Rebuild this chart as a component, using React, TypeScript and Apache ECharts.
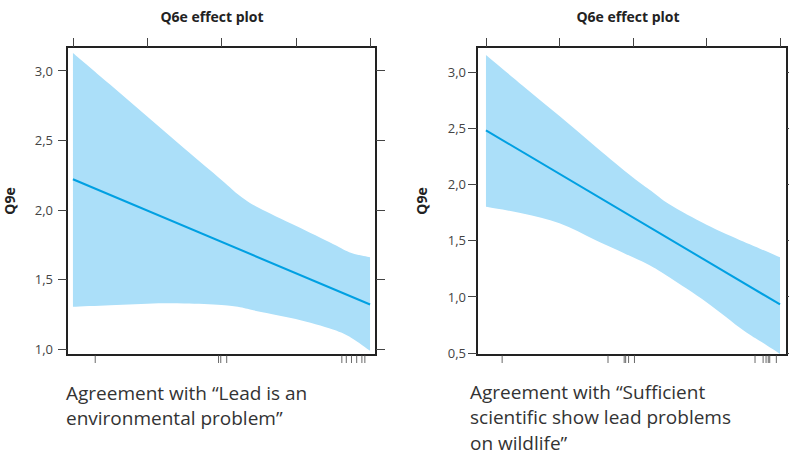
import React, { useEffect, useRef } from "react";
import * as echarts from "echarts";

// ---- data ----
const X_TICKS = [1, 2, 3, 4, 5];
const BAND_X = [1, 1.5, 2, 2.5, 3, 3.25, 3.5, 4, 4.5, 4.75, 5];

const LEAD_UPPER = [3.127, 2.9, 2.67, 2.44, 2.215, 2.1, 2.015, 1.885, 1.755, 1.69, 1.66];
const LEAD_LOWER = [1.304, 1.315, 1.326, 1.327, 1.316, 1.3, 1.27, 1.215, 1.14, 1.08, 0.988];
const LEAD_FIT_X = [1, 5];
const LEAD_FIT = [2.22, 1.32];
const LEAD_RUG = [1.3, 2.96, 2.99, 3.07, 4.62, 4.68, 4.75, 4.82, 4.89, 4.93];
const LEAD_Y_TICKS = [1, 1.5, 2, 2.5, 3];

const WILD_UPPER = [3.15, 2.878, 2.607, 2.33, 2.06, 1.94, 1.82, 1.64, 1.49, 1.42, 1.35];
const WILD_LOWER = [1.8, 1.74, 1.652, 1.5, 1.35, 1.27, 1.17, 0.95, 0.7, 0.595, 0.49];
const WILD_FIT_X = [1, 5];
const WILD_FIT = [2.48, 0.93];
const WILD_RUG = [1.22, 2.66, 2.88, 2.9, 2.94, 3.02, 4.66, 4.77, 4.81, 4.84, 4.86, 4.95];
const WILD_Y_TICKS = [0.5, 1, 1.5, 2, 2.5, 3];

const TITLE = "Q6e effect plot";
const Y_NAME = "Q9e";
const LEAD_XLABEL = "Agreement with \u201cLead is an\nenvironmental problem\u201d";
const WILD_XLABEL = "Agreement with \u201cSufficient\nscientific show lead problems\non wildlife\u201d";

const BAND_COLOR = "#abdff9";
const LINE_COLOR = "#00a0e2";
const FONT = "Open Sans";

function fmt(v: number) {
  return v.toFixed(1).replace(".", ",");
}

// Smooth curve through pixel points (Catmull-Rom -> cubic Bezier), as path commands.
function curveCmds(pts: number[][]) {
  let d = "";
  for (let i = 0; i < pts.length - 1; i++) {
    const p0 = pts[Math.max(i - 1, 0)];
    const p1 = pts[i];
    const p2 = pts[i + 1];
    const p3 = pts[Math.min(i + 2, pts.length - 1)];
    const c1x = p1[0] + (p2[0] - p0[0]) / 6;
    const c1y = p1[1] + (p2[1] - p0[1]) / 6;
    const c2x = p2[0] - (p3[0] - p1[0]) / 6;
    const c2y = p2[1] - (p3[1] - p1[1]) / 6;
    d += ` C ${c1x} ${c1y} ${c2x} ${c2y} ${p2[0]} ${p2[1]}`;
  }
  return d;
}

function panelSeries(
  xi: number,
  yi: number,
  upper: number[],
  lower: number[],
  fitX: number[],
  fit: number[],
  rug: number[],
  yMin: number
) {
  return [
    {
      type: "custom",
      coordinateSystem: "cartesian2d",
      xAxisIndex: xi,
      yAxisIndex: yi,
      data: [[BAND_X[0], lower[0]]],
      encode: { x: 0, y: 1 },
      silent: true,
      z: 1,
      renderItem: (params: any, api: any) => {
        const top = BAND_X.map((x, i) => api.coord([x, upper[i]]));
        const bottom = BAND_X.map((x, i) => api.coord([x, lower[i]])).reverse();
        const d =
          `M ${top[0][0]} ${top[0][1]}` +
          curveCmds(top) +
          ` L ${bottom[0][0]} ${bottom[0][1]}` +
          curveCmds(bottom) +
          " Z";
        return {
          type: "path",
          shape: { pathData: d },
          style: { fill: BAND_COLOR, stroke: "none" },
        };
      },
    },
    {
      type: "line",
      xAxisIndex: xi,
      yAxisIndex: yi,
      data: fitX.map((x, i) => [x, fit[i]]),
      symbol: "none",
      lineStyle: { color: LINE_COLOR, width: 2 },
      silent: true,
      z: 3,
    },
    {
      type: "scatter",
      xAxisIndex: xi,
      yAxisIndex: yi,
      data: rug.map((x) => [x, yMin]),
      symbol: "rect",
      symbolSize: [1, 8],
      symbolOffset: [0, 4],
      itemStyle: { color: "#444" },
      clip: false,
      silent: true,
      z: 4,
    },
  ];
}

export default function App() {
  const ref = useRef<HTMLDivElement>(null);
  useEffect(() => {
    document.body.style.margin = "0";
    if (!ref.current) return;
    const chart = echarts.init(ref.current, undefined, { renderer: "svg" });

    const leftMin = 0.957, leftMax = 3.17;
    const rightMin = 0.48, rightMax = 3.222;

    const tickStyle = { show: true, inside: false, length: 9, lineStyle: { color: "#444", width: 1 } };
    const xAxis = (gi: number, min: number, max: number) => ({
      type: "value",
      gridIndex: gi,
      position: "top",
      min,
      max,
      axisLine: { show: false },
      axisTick: { ...tickStyle, customValues: X_TICKS },
      axisLabel: { show: false, customValues: X_TICKS },
      splitLine: { show: false },
    });
    const yAxisMain = (gi: number, min: number, max: number, ticks: number[], margin: number, gap: number) => ({
      type: "value",
      gridIndex: gi,
      position: "left",
      min,
      max,
      name: Y_NAME,
      nameLocation: "middle",
      nameGap: gap,
      nameRotate: 90,
      nameTextStyle: { fontFamily: FONT, fontWeight: "bold", fontSize: 14, color: "#222" },
      axisLine: { show: false },
      axisTick: { ...tickStyle, customValues: ticks },
      axisLabel: {
        customValues: ticks,
        formatter: (v: number) => fmt(v),
        margin,
        fontFamily: FONT,
        fontSize: 13,
        color: "#444",
      },
      splitLine: { show: false },
    });
    const yAxisSide = (gi: number, min: number, max: number, ticks: number[]) => ({
      type: "value",
      gridIndex: gi,
      position: "right",
      min,
      max,
      axisLine: { show: false },
      axisTick: { ...tickStyle, customValues: ticks },
      axisLabel: { show: false, customValues: ticks },
      splitLine: { show: false },
    });

    const option: any = {
      animation: false,
      backgroundColor: "#ffffff",
      grid: [
        { left: 67, top: 47, width: 309, height: 308, show: true, borderColor: "#222", borderWidth: 2, backgroundColor: "transparent" },
        { left: 477, top: 47, width: 310, height: 308, show: true, borderColor: "#222", borderWidth: 2, backgroundColor: "transparent" },
      ],
      xAxis: [xAxis(0, 0.92, 5.08), xAxis(1, 0.878, 5.095)],
      yAxis: [
        yAxisMain(0, leftMin, leftMax, LEAD_Y_TICKS, 14, 51),
        yAxisSide(0, leftMin, leftMax, LEAD_Y_TICKS),
        yAxisMain(1, rightMin, rightMax, WILD_Y_TICKS, 11, 49),
        yAxisSide(1, rightMin, rightMax, WILD_Y_TICKS),
      ],
      series: [
        ...panelSeries(0, 0, LEAD_UPPER, LEAD_LOWER, LEAD_FIT_X, LEAD_FIT, LEAD_RUG, leftMin),
        ...panelSeries(1, 2, WILD_UPPER, WILD_LOWER, WILD_FIT_X, WILD_FIT, WILD_RUG, rightMin),
      ],
      graphic: [
        {
          type: "text",
          x: 212,
          y: 16,
          style: { text: TITLE, fontFamily: FONT, fontWeight: "bold", fontSize: 14, fill: "#222", align: "center", verticalAlign: "middle" },
        },
        {
          type: "text",
          x: 628,
          y: 16,
          style: { text: TITLE, fontFamily: FONT, fontWeight: "bold", fontSize: 14, fill: "#222", align: "center", verticalAlign: "middle" },
        },
        {
          type: "text",
          x: 66,
          y: 380,
          style: { text: LEAD_XLABEL, fontFamily: FONT, fontSize: 19, lineHeight: 25.5, fill: "#333", align: "left", verticalAlign: "top" },
        },
        {
          type: "text",
          x: 470,
          y: 379,
          style: { text: WILD_XLABEL, fontFamily: FONT, fontSize: 19, lineHeight: 25.5, fill: "#333", align: "left", verticalAlign: "top" },
        },
      ],
    };
    chart.setOption(option);
    return () => chart.dispose();
  }, []);
  return <div ref={ref} style={{ width: 789, height: 455 }} />;
}
